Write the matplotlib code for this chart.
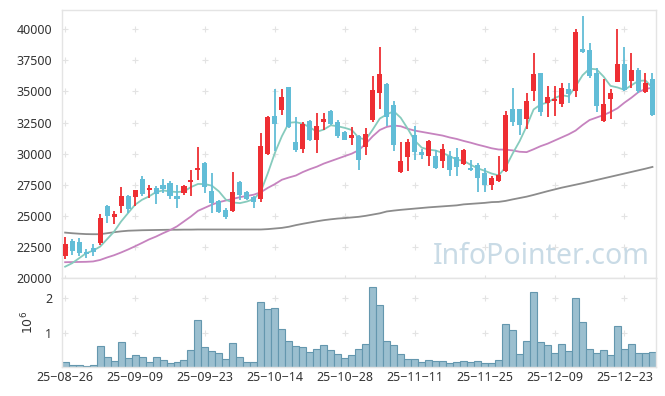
import matplotlib
matplotlib.use("Agg")
import matplotlib.pyplot as plt
import numpy as np

plt.rcParams["font.family"] = ["Noto Sans", "DejaVu Sans"]
plt.rcParams["font.size"] = 9

# daily candles, 85 trading days (25-08-26 .. 25-12-30)
OPEN = [21800, 23010, 22900, 22050, 22420, 22850, 25810, 24890, 25750, 26610,
        26510, 27980, 27060, 27250, 27460, 27640, 26610, 26830, 27690, 28710,
        29270, 27020, 26210, 25480, 25350, 27720, 26910, 26480, 26370, 30000,
        33010, 33470, 35350, 30970, 30380, 32660, 31070, 32530, 33420, 32540,
        31770, 31280, 31450, 30530, 32710, 34860, 35620, 33870, 28500, 29730,
        31530, 30140, 29840, 29840, 29380, 29790, 29740, 29190, 28850, 29110,
        28440, 27500, 27770, 28570, 33550, 33550, 32820, 35030, 36450, 34110,
        34220, 34030, 35160, 35030, 38390, 38350, 36510, 32620, 34400, 35750,
        37180, 35860, 36690, 34920, 35970]
HIGH = [23300, 23150, 23220, 22300, 22740, 25140, 25890, 25350, 27310, 26670,
        27100, 28230, 27500, 27420, 27960, 27770, 27500, 27500, 28710, 30540,
        29330, 28440, 26290, 25620, 28500, 27770, 27020, 26560, 31670, 33010,
        35160, 35210, 35380, 32960, 32530, 32740, 33280, 33280, 33470, 32740,
        31850, 32150, 31530, 32070, 36230, 38610, 35700, 34220, 30940, 31180,
        32200, 30400, 31130, 30320, 30810, 30240, 30460, 30380, 29520, 29250,
        28850, 28170, 29790, 33420, 35300, 33600, 34840, 38070, 36510, 35430,
        35430, 35700, 35700, 40000, 41090, 38900, 36910, 36020, 35160, 40050,
        38610, 38070, 36910, 36510, 36450]
LOW = [21530, 21850, 21770, 21600, 21770, 22660, 24410, 24330, 25230, 25230,
       25750, 26610, 26430, 25980, 26830, 26350, 25620, 26690, 26560, 27900,
       26830, 25230, 25230, 24740, 25320, 26290, 26290, 25650, 26130, 29920,
       30190, 33120, 32070, 30110, 30060, 30990, 30060, 31880, 32290, 31280,
       31070, 30670, 28710, 29920, 32550, 33610, 32200, 30190, 28450, 28580,
       29520, 29570, 29030, 28790, 28850, 28170, 28230, 29110, 28580, 26880,
       26910, 27100, 27720, 28500, 32220, 31530, 31990, 34220, 33030, 32960,
       33010, 33740, 34110, 34570, 38070, 36100, 33370, 32540, 32820, 35720,
       35030, 35240, 34840, 34840, 33010]
CLOSE = [22720, 22200, 21990, 21950, 22050, 24810, 24950, 25160, 26610, 25560,
         27100, 26720, 27250, 26770, 27170, 26560, 26370, 27420, 27900, 28820,
         27280, 26030, 25320, 24900, 26880, 26670, 26370, 26130, 30590, 32930,
         32420, 34520, 32150, 30270, 32360, 31070, 32260, 32820, 32360, 31450,
         31130, 31480, 29460, 31610, 35080, 36370, 32960, 30670, 29410, 30970,
         30140, 29920, 31050, 28870, 30400, 28710, 28930, 30320, 28680, 28040,
         27440, 28040, 28310, 33070, 32540, 32340, 34270, 36370, 33340, 34570,
         34430, 35300, 34760, 39810, 38200, 36240, 33840, 34010, 34890, 37180,
         35110, 36690, 35050, 35700, 33070]

# moving averages as drawn on the chart
MA5 = [20910, 21190, 21590, 21990, 22200, 22520, 23120, 23730, 24540, 25220,
       25890, 26290, 26560, 26910, 27040, 26960, 26910, 26960, 27310, 27560,
       27550, 27420, 26960, 26290, 26070, 26020, 26150, 26350, 26960, 28440,
       30060, 31400, 32480, 32530, 32400, 32120, 31750, 31940, 32280, 32200,
       32070, 31900, 31270, 31130, 31940, 32820, 33150, 33410, 32880, 32000,
       31050, 30480, 30320, 30250, 30050, 29800, 29520, 29420, 29100, 28820,
       28620, 28400, 28250, 28900, 30000, 31000, 32200, 33550, 33950, 34110,
       34460, 34700, 34600, 35400, 36300, 36830, 36780, 36200, 35450, 35320,
       35130, 35500, 35850, 35880, 35300]
MA20 = [21270, 21280, 21290, 21300, 21330, 21450, 21650, 21830, 22050, 22290,
        22550, 22820, 23100, 23330, 23600, 23850, 24150, 24550, 24950, 25400,
        25650, 25900, 26100, 26230, 26360, 26500, 26600, 26700, 26900, 27250,
        27550, 27900, 28080, 28240, 28520, 28750, 28950, 29200, 29400, 29600,
        29800, 30000, 30280, 30800, 31400, 31900, 32150, 32260, 32200, 32000,
        31850, 31750, 31650, 31550, 31450, 31300, 31180, 31020, 30880, 30720,
        30580, 30430, 30330, 30320, 30260, 30150, 30120, 30350, 30600, 30800,
        31050, 31300, 31550, 31850, 32300, 32700, 32900, 33100, 33350, 33650,
        34100, 34500, 34950, 35200, 35300]
MA120 = [23650, 23600, 23560, 23530, 23520, 23520, 23600, 23680, 23750, 23800,
         23820, 23840, 23850, 23860, 23870, 23880, 23880, 23890, 23890, 23900,
         23900, 23900, 23900, 23900, 23900, 23900, 23900, 23900, 23900, 23930,
         23980, 24030, 24120, 24250, 24360, 24460, 24560, 24650, 24720, 24780,
         24820, 24870, 24920, 25000, 25100, 25200, 25350, 25420, 25480, 25530,
         25580, 25630, 25680, 25720, 25760, 25800, 25840, 25920, 25960, 26000,
         26040, 26100, 26120, 26200, 26320, 26430, 26540, 26680, 26830, 26980,
         27120, 27260, 27380, 27500, 27620, 27750, 27880, 28010, 28140, 28270,
         28400, 28530, 28660, 28790, 28930]

VOLUME = [0.14, 0.06, 0.06, 0.03, 0.06, 0.60, 0.29, 0.17, 0.74, 0.26,
          0.34, 0.29, 0.14, 0.29, 0.21, 0.11, 0.14, 0.20, 0.49, 1.37,
          0.57, 0.47, 0.40, 0.23, 0.69, 0.31, 0.14, 0.14, 1.89, 1.69,
          1.71, 1.11, 0.77, 0.60, 0.57, 0.43, 0.54, 0.63, 0.51, 0.37,
          0.26, 0.34, 0.54, 0.66, 2.32, 1.78, 0.77, 0.63, 0.37, 0.23,
          0.23, 0.14, 0.20, 0.17, 0.17, 0.11, 0.14, 0.17, 0.14, 0.17,
          0.11, 0.11, 0.20, 1.26, 1.06, 0.37, 0.77, 2.17, 0.74, 0.63,
          0.40, 0.66, 0.46, 2.00, 1.29, 0.54, 0.40, 0.49, 0.34, 1.20,
          0.54, 0.66, 0.40, 0.40, 0.43]
VOLUME = [v * 1e6 for v in VOLUME]

TICK_LABELS = ["25-08-26", "25-09-09", "25-09-23", "25-10-14", "25-10-28",
               "25-11-11", "25-11-25", "25-12-09", "25-12-23"]

UP = "#ee2e33"
DOWN = "#62bdd7"
GRID = "#e3e3e3"
FRAME = "#e4e4e4"
TXT = "#333333"

x = np.arange(len(CLOSE))
o, h, l, c = map(np.array, (OPEN, HIGH, LOW, CLOSE))
colors = np.where(c >= o, UP, DOWN)

fig = plt.figure(figsize=(6.65, 3.96), dpi=100)
ax = fig.add_axes([0.0932, 0.298, 0.8932, 0.6768])
axv = fig.add_axes([0.0932, 0.0725, 0.8932, 0.2255], sharex=ax)

xticks = list(range(0, len(x), 10))[:len(TICK_LABELS)]
pticks = np.arange(20000, 40001, 2500)

# "+" grid marks
gx, gy = np.meshgrid(xticks, pticks)
ax.plot(gx.ravel(), gy.ravel(), "+", color=GRID, ms=4.5, mew=0.8, zorder=0, clip_on=False)
gx, gy = np.meshgrid(xticks, [1e6, 2e6])
axv.plot(gx.ravel(), gy.ravel(), "+", color=GRID, ms=4.5, mew=0.8, zorder=0)

# moving averages
ax.plot(x, MA120, color="#8c8c8c", lw=1.3, zorder=2)
ax.plot(x, MA20, color="#c683bf", lw=1.3, zorder=2)
ax.plot(x, MA5, color="#86cbbd", lw=1.3, zorder=2)

# candles
ax.vlines(x, l, h, colors=colors, lw=1.3, zorder=3)
body = np.maximum(np.abs(c - o), 90)
ax.bar(x, body, bottom=np.minimum(o, c), width=0.72, color=colors, zorder=4)

ax.text(0.99, 0.08, "InfoPointer.com", transform=ax.transAxes, ha="right", va="center",
        fontsize=20.5, color="#c9dbe6", zorder=1)

ax.set_xlim(-0.45, 84.5)
ax.set_ylim(20000, 41550)
ax.set_yticks(pticks)
ax.set_yticklabels([str(int(t)) for t in pticks])
ax.tick_params(axis="x", length=0, labelbottom=False)
ax.tick_params(axis="y", length=0, pad=7, colors=TXT, labelsize=9)

# volume
axv.bar(x, VOLUME, width=1.0, color="#9bbfcf", edgecolor="#6497ae", lw=0.8, zorder=2)
axv.set_ylim(0, 2.57e6)
axv.set_yticks([1e6, 2e6])
axv.set_yticklabels(["1", "2"])
axv.set_ylabel(r"$10^6$", color=TXT, fontsize=9, labelpad=6)
axv.set_xticks(xticks)
axv.set_xticklabels([t.replace("-", "\u2212") for t in TICK_LABELS])
axv.tick_params(axis="x", length=0, pad=3, colors=TXT, labelsize=9)
axv.tick_params(axis="y", length=0, pad=7, colors=TXT, labelsize=9)

for a in (ax, axv):
    for s in a.spines.values():
        s.set_color(FRAME)
        s.set_linewidth(1)

fig.savefig("out.png", dpi=100)
